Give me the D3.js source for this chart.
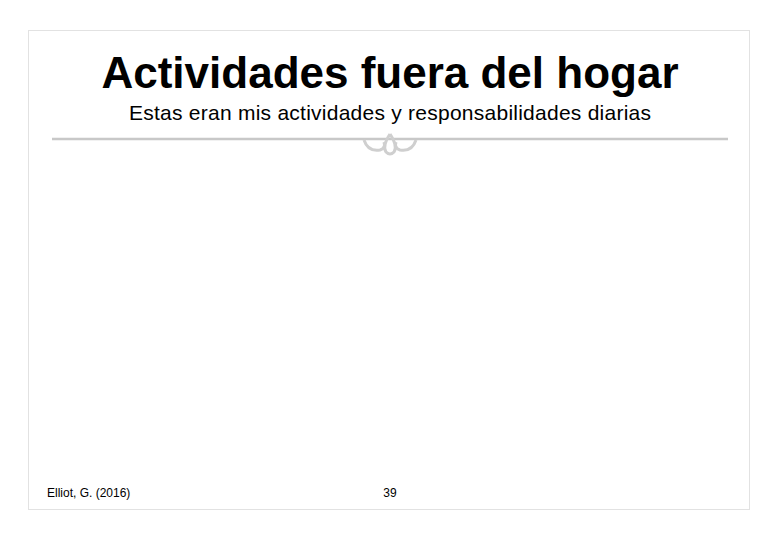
<!DOCTYPE html>
<html><head><meta charset="utf-8">
<script src="https://cdn.jsdelivr.net/npm/d3@7"></script>
<style>body{margin:0;background:#fff}</style>
</head><body>
<svg id="c" width="780" height="540"></svg>
<script>
// slide texts
const title = 'Actividades fuera del hogar';
const subtitle = 'Estas eran mis actividades y responsabilidades diarias';
const footer = ['Elliot, G. (2016)', '39'];

const svg = d3.select('#c');

// slide frame
svg.append('rect')
  .attr('x', 28.5).attr('y', 30.5)
  .attr('width', 721).attr('height', 479)
  .style('fill', 'white')
  .style('stroke', '#e2e2e2');

svg.append('text')
  .attr('x', 390).attr('y', 88)
  .attr('text-anchor', 'middle')
  .style('font-family', 'Liberation Sans, Arial, sans-serif')
  .style('font-size', '44px')
  .style('font-weight', 'bold')
  .text(title);

svg.append('text')
  .attr('x', 390).attr('y', 120)
  .attr('text-anchor', 'middle')
  .style('font-family', 'Liberation Sans, Arial, sans-serif')
  .style('font-size', '21px')
  .attr('textLength', 522)
  .text(subtitle);

// divider line with ornament
svg.append('line')
  .attr('x1', 52).attr('x2', 728)
  .attr('y1', 139).attr('y2', 139)
  .style('stroke', '#c8c8c8')
  .style('stroke-width', 2.5);

const orn = svg.append('g')
  .attr('transform', 'translate(390,140)')
  .style('fill', 'none')
  .style('stroke', '#cfcfcf')
  .style('stroke-width', 3);
orn.append('path').attr('d', 'M-26,0 Q-22,12 -10,10 Q-4,8 -6,2');
orn.append('path').attr('d', 'M26,0 Q22,12 10,10 Q4,8 6,2');
orn.append('path').attr('d', 'M0,-6 Q-8,6 -4,12 Q0,16 4,12 Q8,6 0,-6');

svg.selectAll('text.foot')
  .data(footer)
  .enter().append('text')
  .attr('class', 'foot')
  .attr('x', (d, i) => i === 0 ? 47 : 390)
  .attr('y', 497)
  .attr('text-anchor', (d, i) => i === 0 ? 'start' : 'middle')
  .style('font-family', 'Liberation Sans, Arial, sans-serif')
  .style('font-size', '12px')
  .text(d => d);
</script>
</body></html>
